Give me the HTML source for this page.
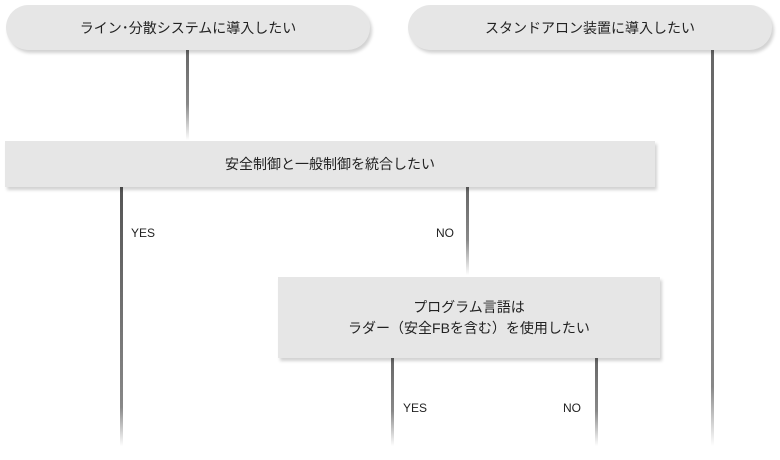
<!DOCTYPE html>
<html><head><meta charset="utf-8"><style>
body{margin:0;width:780px;height:460px;background:#fff;position:relative;overflow:hidden;font-family:"Liberation Sans","Noto Sans CJK JP",sans-serif;color:#222}
.pill{position:absolute;background:#e6e6e6;border-radius:23px;box-shadow:2px 3px 3px rgba(0,0,0,0.18);display:flex;align-items:center;justify-content:center;font-size:14px}
.box{position:absolute;background:#e6e6e6;box-shadow:2px 3px 3px rgba(0,0,0,0.18);display:flex;align-items:center;justify-content:center;text-align:center;font-size:14px;line-height:21px}
.ln{position:absolute;width:3px;background:linear-gradient(#666,#888 60%,#fff)}
.lb{position:absolute;font-size:12px}
</style></head><body>
<div class="ln" style="left:186px;top:50px;height:90px"></div>
<div class="ln" style="left:711px;top:50px;height:396px;background:linear-gradient(#666,#888 85%,#fff)"></div>
<div class="ln" style="left:120px;top:187px;height:259px;background:linear-gradient(#555,#888 85%,#fff)"></div>
<div class="ln" style="left:466px;top:187px;height:88px"></div>
<div class="ln" style="left:391px;top:358px;height:88px"></div>
<div class="ln" style="left:595px;top:358px;height:88px"></div>
<div class="pill" style="left:6px;top:5px;width:364px;height:45px">ライン･分散システムに導入したい</div>
<div class="pill" style="left:408px;top:5px;width:364px;height:45px">スタンドアロン装置に導入したい</div>
<div class="box" style="left:5px;top:141px;width:650px;height:46px">安全制御と一般制御を統合したい</div>
<div class="box" style="left:278px;top:277px;width:382px;height:81px">プログラム言語は<br>ラダー（安全FBを含む）を使用したい</div>
<div class="lb" style="left:131px;top:226px">YES</div>
<div class="lb" style="left:436px;top:226px">NO</div>
<div class="lb" style="left:403px;top:401px">YES</div>
<div class="lb" style="left:563px;top:401px">NO</div>
</body></html>
